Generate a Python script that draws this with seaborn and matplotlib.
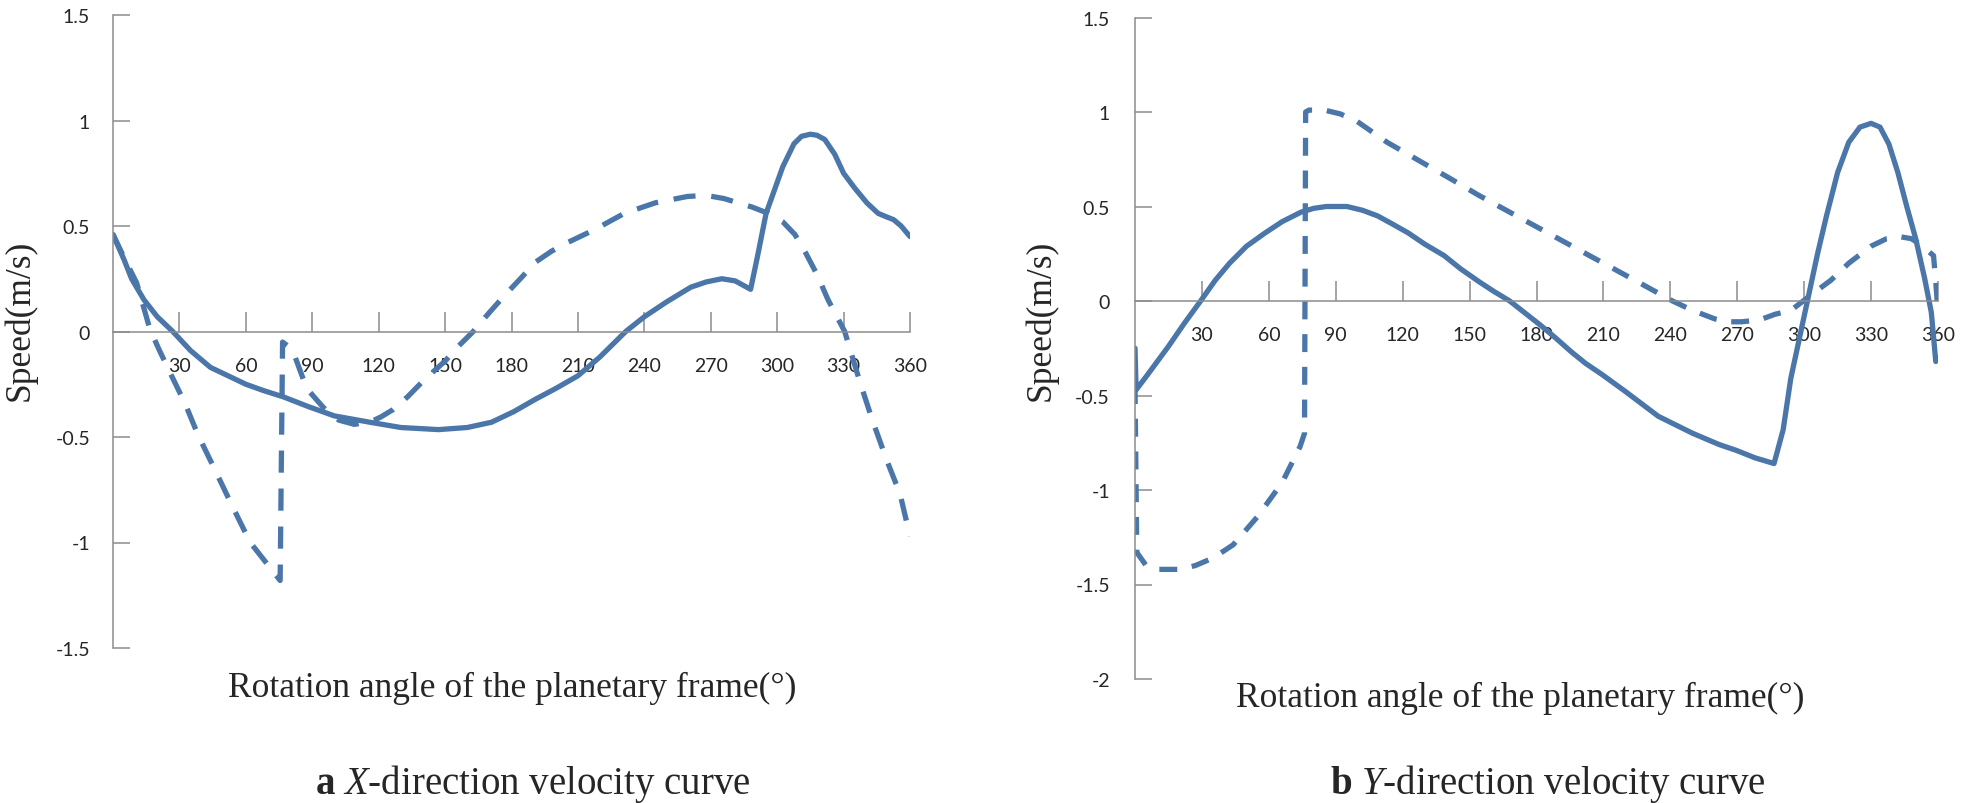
import pandas as pd
import matplotlib
matplotlib.use("Agg")
import matplotlib.pyplot as plt
import seaborn as sns
from matplotlib.ticker import FuncFormatter

# ================= data =================
angle_ticks = [30, 60, 90, 120, 150, 180, 210, 240, 270, 300, 330, 360]
yticks_a = [-1.5, -1, -0.5, 0, 0.5, 1, 1.5]
yticks_b = [-2, -1.5, -1, -0.5, 0, 0.5, 1, 1.5]

# (a) X-direction, solid curve
xa_solid_deg = [0, 5, 8.4, 14, 20, 27, 35, 44, 52, 60, 68, 77, 88, 100, 116, 130, 147,
                160, 171, 181, 191, 200, 210, 220, 231.6, 240, 250, 261, 268, 275, 281,
                288, 291, 295, 302.5, 307.6, 311, 315, 318, 321.5, 326, 330, 335, 340.5,
                345.6, 349, 352.6, 356, 360]
xa_solid_v = [0.46, 0.34, 0.25, 0.15, 0.07, 0.0, -0.09, -0.17, -0.21, -0.25, -0.28, -0.31,
              -0.355, -0.40, -0.43, -0.455, -0.465, -0.455, -0.43, -0.38, -0.32, -0.27,
              -0.21, -0.12, 0.0, 0.07, 0.14, 0.21, 0.235, 0.25, 0.24, 0.2, 0.35, 0.56,
              0.78, 0.89, 0.925, 0.935, 0.93, 0.91, 0.84, 0.75, 0.68, 0.61, 0.56, 0.545,
              0.53, 0.5, 0.45]

# (a) X-direction, dashed curve
xa_dash_deg = [0, 5, 10.7, 16.7, 21, 26, 32.5, 37.6, 40.7, 45.8, 54, 62, 68, 74, 75.5,
               76.6, 81, 87.5, 95, 102, 109, 116, 121, 126.5, 133, 140.5, 150, 156, 162.7,
               170, 176.8, 184, 191, 198, 205, 217, 231, 245, 259.5, 268, 276, 288.6, 296,
               302.5, 308, 313, 318, 323, 330.5, 337.4, 343, 349.5, 355.5, 360]
xa_dash_v = [0.46, 0.35, 0.23, 0.01, -0.09, -0.2, -0.34, -0.47, -0.54, -0.65, -0.83, -1.0,
             -1.08, -1.16, -1.18, -0.05, -0.085, -0.27, -0.36, -0.42, -0.44, -0.43, -0.405,
             -0.37, -0.31, -0.23, -0.14, -0.07, 0.0, 0.09, 0.17, 0.25, 0.33, 0.38, 0.42,
             0.48, 0.56, 0.61, 0.64, 0.645, 0.63, 0.59, 0.56, 0.52, 0.46, 0.37, 0.27, 0.15,
             0.0, -0.24, -0.42, -0.61, -0.77, -0.97]

# (b) Y-direction, solid curve
yb_solid_deg = [0, 0.5, 5, 10, 15, 22, 29.4, 36, 42.4, 50, 58.3, 66, 74.4, 80, 85.8, 95,
                102, 108.8, 115, 122.5, 130, 138.6, 146, 154.5, 161, 168, 175, 182, 189,
                195.7, 202, 209.5, 220, 234.6, 250, 262, 269.5, 278, 286.5, 290.6, 294,
                298, 302, 306, 310, 315, 320, 325, 330, 334, 338, 342, 346, 350, 354, 357,
                359, 360]
yb_solid_v = [-0.25, -0.47, -0.4, -0.32, -0.24, -0.12, 0.0, 0.11, 0.2, 0.29, 0.36, 0.42,
              0.47, 0.49, 0.5, 0.5, 0.48, 0.45, 0.41, 0.36, 0.3, 0.24, 0.17, 0.1, 0.05,
              0.0, -0.065, -0.13, -0.2, -0.27, -0.33, -0.39, -0.48, -0.61, -0.7, -0.76,
              -0.79, -0.83, -0.86, -0.68, -0.41, -0.19, 0.03, 0.25, 0.45, 0.68, 0.84,
              0.92, 0.94, 0.92, 0.83, 0.68, 0.5, 0.33, 0.12, -0.06, -0.32, -0.3]

# (b) Y-direction, dashed curve
yb_dash_deg = [0, 0.8, 5, 10, 14, 20, 27, 35, 44, 55, 66, 74, 76, 76.5, 78, 85, 92, 99.6,
               113, 127, 141, 154, 168, 182, 196, 210, 225.6, 241, 250, 260, 266, 272, 280,
               287, 294, 304, 312, 320, 330, 337, 343, 348, 352, 356, 358, 359, 360]
yb_dash_v = [-0.45, -1.33, -1.40, -1.42, -1.42, -1.42, -1.40, -1.36, -1.29, -1.14, -0.96,
             -0.77, -0.7, 1.0, 1.01, 1.01, 0.99, 0.95, 0.84, 0.745, 0.65, 0.56, 0.47, 0.38,
             0.29, 0.2, 0.1, 0.0, -0.05, -0.095, -0.11, -0.11, -0.1, -0.07, -0.05, 0.04,
             0.11, 0.2, 0.29, 0.33, 0.34, 0.33, 0.3, 0.26, 0.24, 0.1, -0.06]

# ================= style =================
sns.set_style("white")
plt.rcParams["font.family"] = ["Liberation Serif", "DejaVu Serif"]
plt.rcParams["axes.unicode_minus"] = False
plt.rcParams["mathtext.fontset"] = "custom"
plt.rcParams["mathtext.rm"] = "Liberation Serif"
plt.rcParams["mathtext.it"] = "Liberation Serif:italic"
plt.rcParams["mathtext.bf"] = "Liberation Serif:bold"

line_color = "#4b76a9"
axis_color = "#8c8c8c"
tick_text = "#262626"

W, H = 1961, 804
fig = plt.figure(figsize=(W / 100, H / 100), dpi=100)
fig.patch.set_facecolor("white")
ax_a = fig.add_axes([113 / W, 1 - 649 / H, 797 / W, 633 / H])
ax_b = fig.add_axes([1135 / W, 1 - 680 / H, 803 / W, 661.5 / H])


def draw_curves(ax, sd, sv, dd, dv, dash):
    df = pd.concat([
        pd.DataFrame({"angle": sd, "speed": sv, "curve": "solid"}),
        pd.DataFrame({"angle": dd, "speed": dv, "curve": "dashed"}),
    ], ignore_index=True)
    sns.lineplot(data=df, x="angle", y="speed", style="curve",
                 dashes={"solid": "", "dashed": dash}, color=line_color,
                 linewidth=3.8, sort=False, estimator=None, legend=False, ax=ax)


def style_axis(ax, ylim, yticks, ypad):
    ax.set_xlim(0, 360)
    ax.set_ylim(*ylim)
    ax.set_facecolor("white")
    for s in ["top", "right"]:
        ax.spines[s].set_visible(False)
    ax.spines["bottom"].set_position(("data", 0))
    for s in ["left", "bottom"]:
        ax.spines[s].set_visible(True)
        ax.spines[s].set_color(axis_color)
        ax.spines[s].set_linewidth(1.1)
    ax.set_xticks(angle_ticks)
    ax.set_yticks(yticks)
    ax.yaxis.set_major_formatter(FuncFormatter(lambda v, p: f"{v:g}"))
    ax.tick_params(axis="x", direction="in", length=14.5, width=1.1, color=axis_color,
                   pad=18, labelsize=14, labelcolor=tick_text, bottom=True)
    ax.tick_params(axis="y", direction="in", length=12, width=1.1, color=axis_color,
                   pad=ypad, labelsize=14, labelcolor=tick_text, left=True)
    for lab in ax.get_xticklabels() + ax.get_yticklabels():
        lab.set_fontfamily("Lato")
    ax.set_xlabel("")
    ax.set_ylabel("")


draw_curves(ax_a, xa_solid_deg, xa_solid_v, xa_dash_deg, xa_dash_v, (4.2, 3.0))
draw_curves(ax_b, yb_solid_deg, yb_solid_v, yb_dash_deg, yb_dash_v, (3.4, 2.8))
style_axis(ax_a, (-1.5, 1.5), yticks_a, 16.5)
style_axis(ax_b, (-2, 1.5), yticks_b, 18)

# axis titles and captions
fig.text(20 / W, 1 - 320 / H, "Speed(m/s)", rotation=90, ha="center", va="center", fontsize=25.5)
fig.text(1041 / W, 1 - 320 / H, "Speed(m/s)", rotation=90, ha="center", va="center", fontsize=25.5)
fig.text(512 / W, 1 - 697 / H, "Rotation angle of the planetary frame(°)",
         ha="center", va="baseline", fontsize=25.5)
fig.text(1520 / W, 1 - 707 / H, "Rotation angle of the planetary frame(°)",
         ha="center", va="baseline", fontsize=25.5)
fig.text(533 / W, 1 - 794 / H, r"$\mathbf{a}$ $\mathit{X}$-direction velocity curve",
         ha="center", va="baseline", fontsize=28)
fig.text(1548 / W, 1 - 794 / H, r"$\mathbf{b}$ $\mathit{Y}$-direction velocity curve",
         ha="center", va="baseline", fontsize=28)

fig.savefig("out.png", dpi=100, facecolor="white")
